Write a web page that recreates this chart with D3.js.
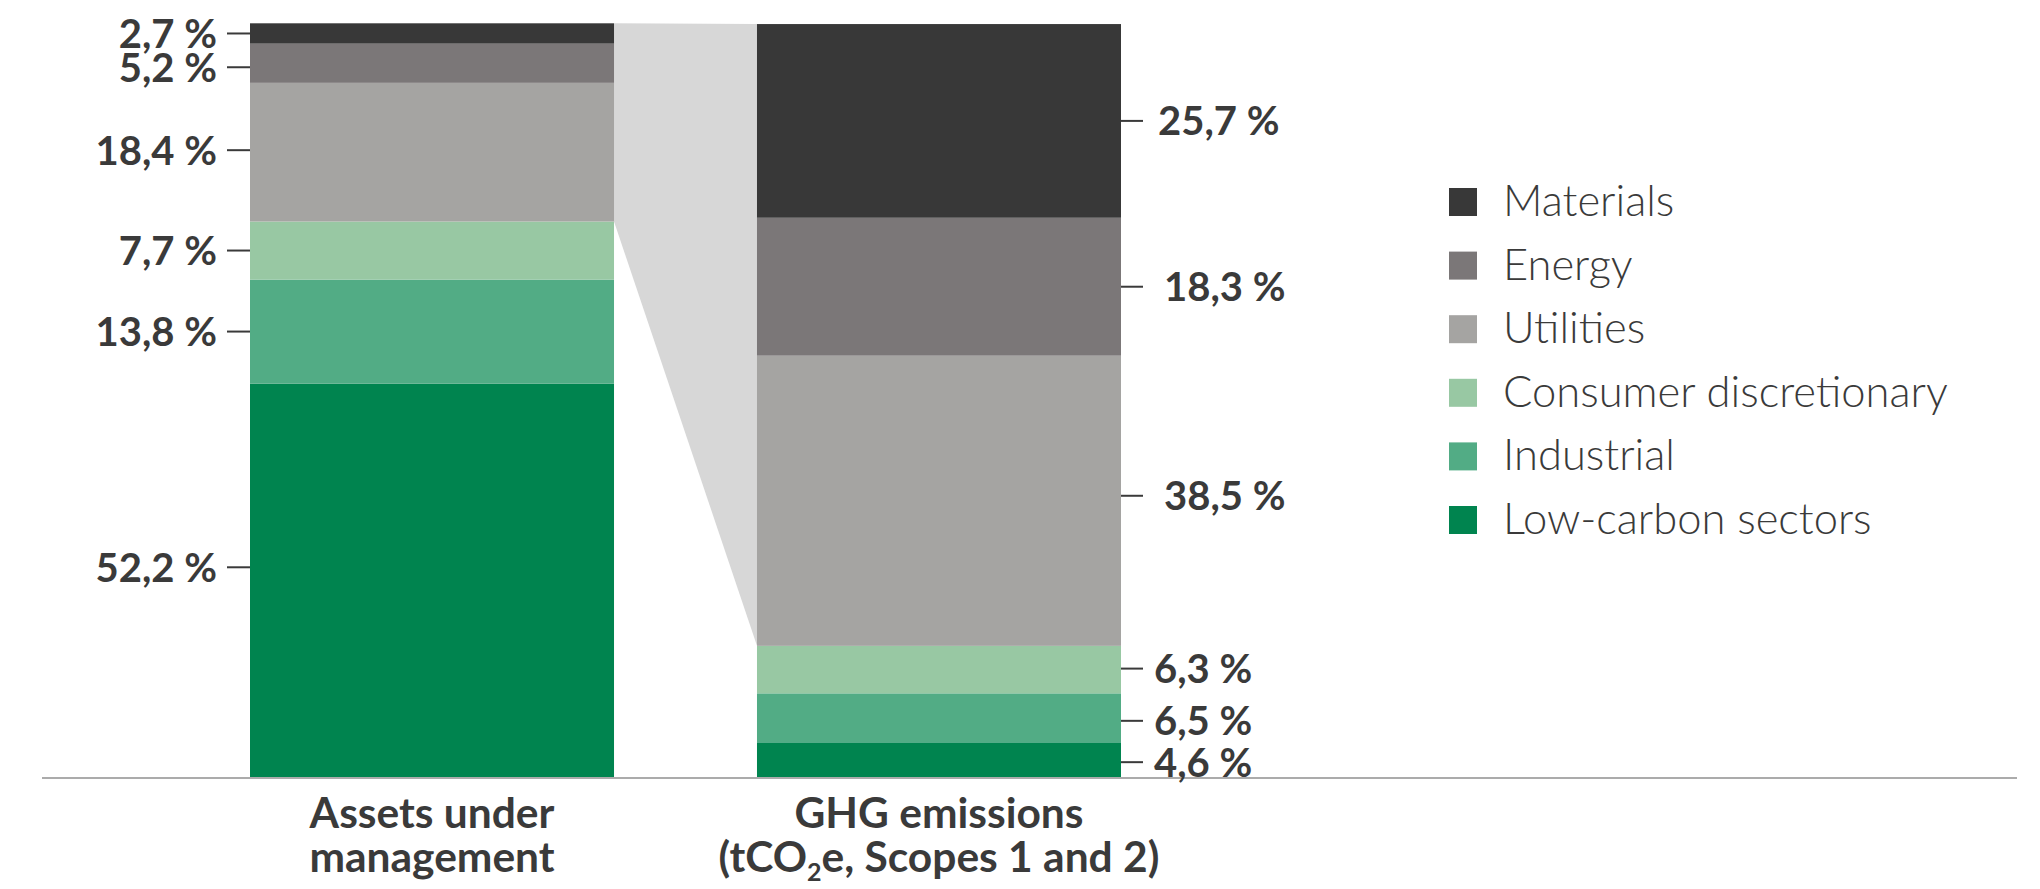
<!DOCTYPE html>
<html>
<head>
<meta charset="utf-8">
<script src="https://cdn.jsdelivr.net/npm/d3@7"></script>
<style>
  html, body { margin: 0; padding: 0; background: #ffffff; }
  svg { display: block; }
  .val { font-family: Lato, "Open Sans", sans-serif; font-weight: 700; fill: #3a3a3a; }
  .cat { font-family: Lato, "Open Sans", sans-serif; font-weight: 700; fill: #3a3a3a; }
  .leg { font-family: Lato, "Open Sans", sans-serif; font-weight: 300; fill: #3a3a3a; }
</style>
</head>
<body>
<svg id="chart" width="2040" height="889"></svg>
<script>
// Sector breakdown, stacked from the bottom up
const sectors = ["Low-carbon sectors", "Industrial", "Consumer discretionary", "Utilities", "Energy", "Materials"];
const barKeys = ["aum", "ghg"];
const barLabels = [["Assets under", "management"], ["GHG emissions", "(tCO|2|e, Scopes 1 and 2)"]];
const aumShare = [52.2, 13.8, 7.7, 18.4, 5.2, 2.7];
const ghgShare = [4.6, 6.5, 6.3, 38.5, 18.3, 25.7];
const sectorColors = ["#00844f", "#52ac85", "#98c8a3", "#a5a4a2", "#7b7778", "#383838"];

// small vertical nudges for the value labels (bottom-up order), px
const aumLabelNudge = [-13, 0, 0, -2, 4, 0];
const ghgLabelNudge = [2.5, 3, -1, -5, 0, 0];
const ghgLabelDx = [0, 0, 0, 10, 10, 4];

const svg = d3.select("#chart");

const x = d3.scaleBand().domain(barKeys).range([250, 1121]).paddingInner(0.282).paddingOuter(0);
const y = d3.scaleLinear().domain([0, 100]).range([777, 23.3]);
const color = d3.scaleOrdinal().domain(sectors).range(sectorColors);

const rows = [aumShare, ghgShare].map((vals, i) => {
  const r = { key: barKeys[i] };
  sectors.forEach((s, j) => r[s] = vals[j]);
  return r;
});
const series = d3.stack().keys(sectors)(rows);

const fmt = v => d3.format(".1f")(v).replace(".", ",") + " %";

// connector between the high-emitting sectors of both bars
const utilIdx = sectors.indexOf("Utilities");
const topIdx = sectors.length - 1;
const lx = x("aum") + x.bandwidth(), rx = x("ghg");
const poly = [
  [lx, y(series[topIdx][0][1])],
  [rx, y(series[topIdx][1][1])],
  [rx, y(series[utilIdx][1][0])],
  [lx, y(series[utilIdx][0][0])]
];
svg.append("path")
  .attr("d", d3.line()(poly) + "Z")
  .attr("fill", "#d7d7d7");

// stacked segments
svg.append("g").selectAll("g")
  .data(series)
  .join("g")
  .attr("fill", d => color(d.key))
  .selectAll("rect")
  .data(d => d)
  .join("rect")
  .attr("x", d => x(d.data.key))
  .attr("width", x.bandwidth())
  .attr("y", d => y(d[1]))
  .attr("height", d => y(d[0]) - y(d[1]));

// baseline
svg.append("line")
  .attr("x1", 42).attr("x2", 2017)
  .attr("y1", y(0) + 1).attr("y2", y(0) + 1)
  .attr("stroke", "#ababab").attr("stroke-width", 2);

// value labels with leader ticks
const labelG = svg.append("g");
series.forEach((s, j) => {
  // left bar
  const a = s[0];
  const ya = (y(a[0]) + y(a[1])) / 2 + aumLabelNudge[j];
  labelG.append("line")
    .attr("x1", x("aum") - 23).attr("x2", x("aum"))
    .attr("y1", ya).attr("y2", ya)
    .attr("stroke", "#3a3a3a").attr("stroke-width", 2);
  labelG.append("text").attr("class", "val")
    .attr("x", x("aum") - 33).attr("y", ya).attr("dy", "0.36em")
    .attr("text-anchor", "end").attr("font-size", 40)
    .text(fmt(aumShare[j]));

  // right bar
  const b = s[1];
  const yb = (y(b[0]) + y(b[1])) / 2 + ghgLabelNudge[j];
  const xr = x("ghg") + x.bandwidth();
  labelG.append("line")
    .attr("x1", xr).attr("x2", xr + 22)
    .attr("y1", yb).attr("y2", yb)
    .attr("stroke", "#3a3a3a").attr("stroke-width", 2);
  labelG.append("text").attr("class", "val")
    .attr("x", xr + 33 + ghgLabelDx[j]).attr("y", yb).attr("dy", "0.36em")
    .attr("text-anchor", "start").attr("font-size", 40)
    .text(fmt(ghgShare[j]));
});

// category labels under the bars
barKeys.forEach((k, i) => {
  const cx = x(k) + x.bandwidth() / 2;
  const t = svg.append("text").attr("class", "cat")
    .attr("x", cx).attr("y", 828).attr("text-anchor", "middle").attr("font-size", 42.5);
  barLabels[i].forEach((line, li) => {
    const parts = line.split("|");
    parts.forEach((p, pi) => {
      const ts = t.append("tspan").text(p);
      if (pi === 0) ts.attr("x", cx).attr("dy", li === 0 ? 0 : 44);
      if (pi === 1) ts.attr("font-size", 25).attr("dy", 9);
      if (pi === 2) ts.attr("dy", -9);
    });
  });
});

// legend, top to bottom
const legendOrder = sectors.slice().reverse();
const leg = svg.append("g");
legendOrder.forEach((s, i) => {
  const top = 188 + i * 63.6;
  leg.append("rect")
    .attr("x", 1449).attr("y", top).attr("width", 28).attr("height", 28)
    .attr("fill", color(s));
  leg.append("text").attr("class", "leg")
    .attr("x", 1503).attr("y", top + 28).attr("font-size", 43.5)
    .text(s);
});
</script>
</body>
</html>
